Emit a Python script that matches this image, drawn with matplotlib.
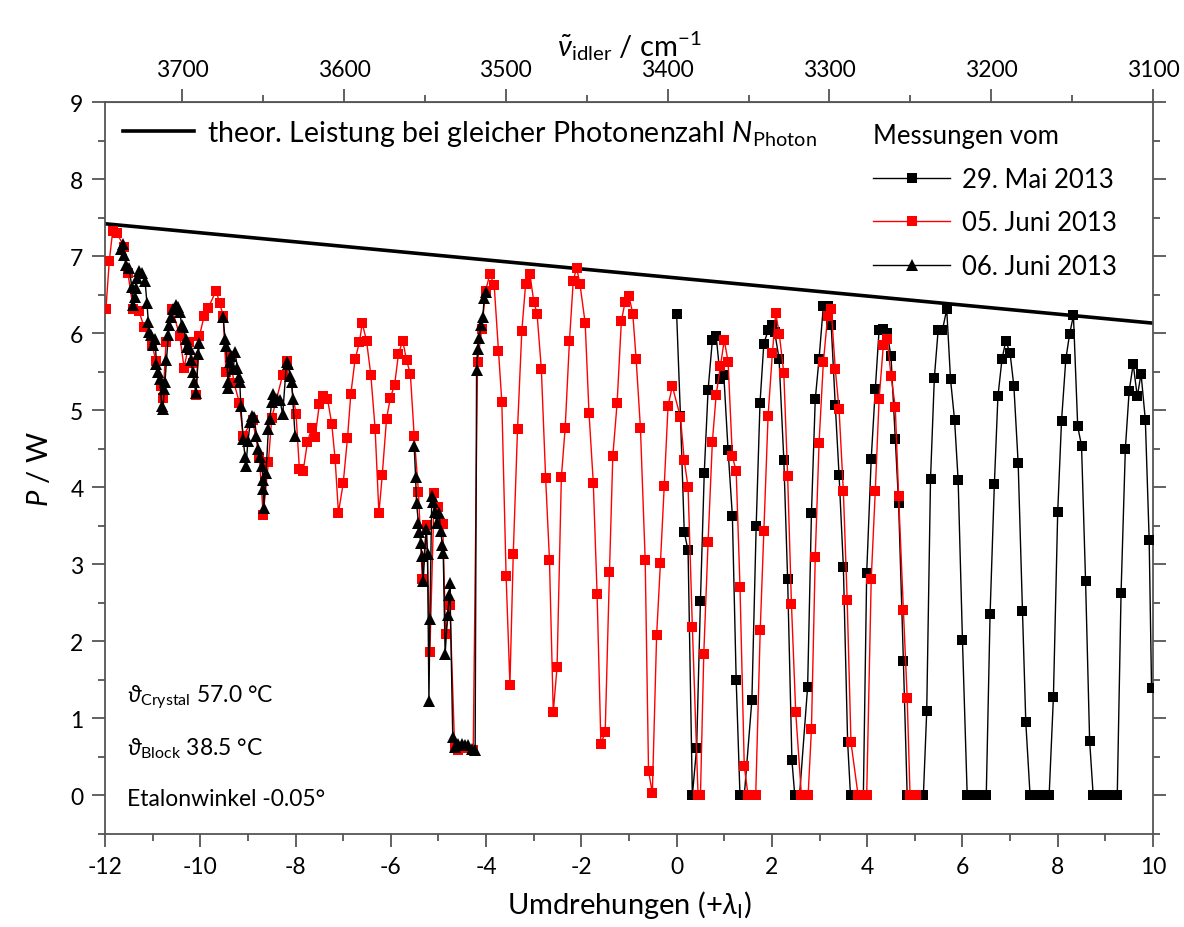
import numpy as np
import matplotlib
matplotlib.use("Agg")
from matplotlib import pyplot as plt
from matplotlib.lines import Line2D
from matplotlib.ticker import MultipleLocator, FixedLocator

plt.rcParams['font.family'] = ['Lato', 'DejaVu Sans']
plt.rcParams['mathtext.fontset'] = 'custom'
plt.rcParams['mathtext.rm'] = 'Lato'
plt.rcParams['mathtext.it'] = 'Lato:italic'
plt.rcParams['mathtext.fallback'] = 'stixsans'
plt.rcParams['axes.unicode_minus'] = False

# theoretical power at equal photon number
theo_x = [-12, 10]
theo_y = [7.42, 6.13]

# 29. Mai 2013 (black squares)
mai29_x = [0.00, 0.08, 0.16, 0.24, 0.33, 0.42, 0.50, 0.58, 0.66, 0.75, 0.83, 0.92, 0.99, 1.08, 1.17, 1.25,
           1.33, 1.42, 1.58, 1.67, 1.75, 1.83, 1.92, 2.00, 2.06, 2.15, 2.25, 2.33, 2.42, 2.48, 2.58, 2.75,
           2.83, 2.91, 2.99, 3.08, 3.17, 3.245, 3.33, 3.41, 3.50, 3.59, 3.65, 3.75, 3.85, 3.92, 3.99, 4.085,
           4.17, 4.25, 4.34, 4.42, 4.50, 4.59, 4.66, 4.76, 4.84, 4.95, 5.05, 5.18, 5.25, 5.33, 5.41, 5.49,
           5.58, 5.67, 5.75, 5.835, 5.91, 6.00, 6.10, 6.20, 6.30, 6.40, 6.50, 6.58, 6.67, 6.745, 6.83, 6.91,
           7.00, 7.08, 7.17, 7.26, 7.33, 7.42, 7.52, 7.62, 7.72, 7.82, 7.91, 8.00, 8.08, 8.17, 8.25, 8.33,
           8.42, 8.50, 8.585, 8.67, 8.745, 8.85, 8.95, 9.05, 9.15, 9.25, 9.33, 9.42, 9.50, 9.585, 9.67, 9.75,
           9.84, 9.92, 9.97]
mai29_y = [6.25, 4.93, 3.42, 3.18, 0.00, 0.62, 2.53, 4.19, 5.26, 5.91, 5.96, 5.40, 5.46, 4.48, 3.63, 1.50,
           0.00, 0.00, 1.24, 3.50, 5.09, 5.86, 6.04, 6.10, 6.01, 5.67, 4.36, 2.81, 0.46, 0.00, 0.00, 1.41,
           3.66, 5.14, 5.67, 6.35, 6.35, 6.10, 5.07, 4.16, 2.97, 0.69, 0.00, 0.00, 0.00, 0.00, 2.89, 4.37,
           5.27, 6.04, 6.06, 6.00, 5.70, 4.63, 3.79, 1.75, 0.00, 0.00, 0.00, 0.00, 1.09, 4.11, 5.42, 6.04,
           6.04, 6.31, 5.40, 4.87, 4.09, 2.02, 0.00, 0.00, 0.00, 0.00, 0.00, 2.35, 4.04, 5.18, 5.66, 5.90,
           5.74, 5.31, 4.31, 2.40, 0.95, 0.00, 0.00, 0.00, 0.00, 0.00, 1.28, 3.68, 4.86, 5.66, 5.99, 6.23,
           4.79, 4.54, 2.78, 0.71, 0.00, 0.00, 0.00, 0.00, 0.00, 0.00, 2.63, 4.50, 5.25, 5.60, 5.18, 5.47,
           4.87, 3.32, 1.40]

# 05. Juni 2013 (red squares)
jun05_x = [-11.98, -11.91, -11.84, -11.75, -11.60, -11.52, -11.41, -11.29, -11.18, -11.01, -10.93, -10.83,
           -10.78, -10.72, -10.59, -10.43, -10.34, -10.23, -10.15, -10.09, -10.02, -9.92, -9.83, -9.67,
           -9.59, -9.52, -9.46, -9.38, -9.29, -9.18, -9.10, -8.90, -8.76, -8.68, -8.57, -8.50, -8.27,
           -8.17, -7.99, -7.92, -7.84, -7.75, -7.66, -7.59, -7.50, -7.42, -7.33, -7.24, -7.17, -7.10,
           -7.00, -6.91, -6.84, -6.75, -6.66, -6.60, -6.51, -6.42, -6.33, -6.25, -6.18, -6.09, -6.01,
           -5.92, -5.84, -5.75, -5.67, -5.59, -5.51, -5.42, -5.34, -5.25, -5.18, -5.09, -5.00, -4.91,
           -4.85, -4.76, -4.66, -4.58, -4.45, -4.27, -4.18, -4.09, -4.01, -3.92, -3.83, -3.74, -3.67,
           -3.58, -3.50, -3.43, -3.34, -3.25, -3.17, -3.08, -3.00, -2.93, -2.84, -2.75, -2.67, -2.59,
           -2.51, -2.42, -2.34, -2.25, -2.17, -2.10, -2.03, -1.92, -1.84, -1.75, -1.67, -1.59, -1.50,
           -1.41, -1.34, -1.25, -1.16, -1.08, -1.00, -0.92, -0.85, -0.76, -0.66, -0.59, -0.51, -0.42,
           -0.34, -0.26, -0.18, -0.09, 0.08, 0.16, 0.24, 0.33, 0.45, 0.50, 0.57, 0.66, 0.75, 0.83,
           0.92, 1.00, 1.08, 1.17, 1.25, 1.33, 1.42, 1.50, 1.66, 1.755, 1.83, 1.92, 2.01, 2.08, 2.155,
           2.25, 2.33, 2.41, 2.50, 2.62, 2.76, 2.83, 2.91, 2.99, 3.08, 3.17, 3.245, 3.33, 3.41, 3.50,
           3.58, 3.66, 3.81, 3.99, 4.085, 4.17, 4.25, 4.34, 4.42, 4.50, 4.59, 4.66, 4.76, 4.84, 4.90,
           5.02]
jun05_y = [6.32, 6.94, 7.32, 7.30, 7.12, 6.78, 6.32, 6.29, 6.08, 5.84, 5.64, 5.31,
           5.16, 5.89, 6.31, 5.96, 5.55, 5.89, 5.61, 5.20, 5.96, 6.22, 6.33, 6.55,
           6.39, 6.22, 5.49, 5.71, 5.35, 5.10, 4.67, 4.87, 4.39, 3.64, 4.33, 4.90, 5.46,
           5.64, 4.95, 4.24, 4.21, 4.59, 4.77, 4.65, 5.08, 5.19, 5.15, 4.82, 4.37, 3.67,
           4.05, 4.64, 5.21, 5.66, 5.88, 6.13, 5.90, 5.46, 4.76, 3.66, 4.16, 4.89, 5.16,
           5.33, 5.73, 5.90, 5.65, 5.47, 4.67, 3.94, 2.81, 3.51, 1.86, 3.93, 3.74, 3.52,
           2.09, 2.47, 0.62, 0.59, 0.62, 0.59, 5.62, 6.06, 6.55, 6.77, 6.62, 5.77, 5.11,
           2.85, 1.44, 3.13, 4.76, 6.03, 6.64, 6.77, 6.41, 6.25, 5.53, 4.12, 3.06, 1.08,
           1.67, 4.13, 4.77, 5.90, 6.68, 6.85, 6.64, 6.13, 4.97, 4.06, 2.62, 0.67, 0.82,
           2.90, 4.40, 5.09, 6.16, 6.41, 6.48, 6.25, 5.66, 4.77, 3.05, 0.32, 0.03, 2.08,
           3.02, 4.02, 5.06, 5.31, 4.91, 4.35, 4.00, 2.19, 0.00, 0.00, 1.84, 3.29, 4.59, 5.20,
           5.58, 5.91, 5.63, 4.40, 4.21, 2.71, 0.38, 0.00, 0.00, 2.15, 3.43, 4.93, 5.74, 6.26, 5.99,
           5.48, 4.15, 2.49, 1.08, 0.00, 0.00, 0.86, 3.09, 4.58, 5.62, 6.22, 6.31, 5.54, 5.01, 3.95,
           2.54, 0.69, 0.00, 0.00, 2.81, 3.95, 5.14, 5.85, 5.92, 5.45, 5.04, 3.89, 2.41, 1.27, 0.00,
           0.00]

# 06. Juni 2013 (black triangles), separate measurement runs
jun06_x = [-11.67, -11.63, -11.60, -11.56, -11.49, -11.44, -11.41, -11.37, -11.35, -11.32, -11.28, -11.23,
           -11.16, -11.12, -11.09, -11.07, -11.04, -10.99, -10.95, -10.92, -10.88, -10.85, -10.81, -10.78,
           -10.76, -10.74, -10.71, -10.67, -10.65, -10.62, -10.57, -10.51, -10.46, -10.43, -10.39, -10.36,
           -10.30, -10.27, -10.22, -10.20, -10.16, -10.13, -10.09, -10.04, -10.02,
           np.nan,
           -9.52, -9.48, -9.46,
           -9.42, -9.41, -9.38, -9.35, -9.31, -9.27, -9.22, -9.18, -9.17, -9.15, -9.10, -9.06, -9.04,
           -9.00, -8.95, -8.92, -8.87, -8.82, -8.78, -8.75, -8.71, -8.68, -8.68, -8.67, -8.62, -8.57,
           -8.54, -8.50, -8.47, -8.40, -8.33, -8.27, -8.19, -8.15, -8.12, -8.08, -8.06, -8.01,
           np.nan,
           -5.51, -5.48, -5.46, -5.42, -5.40, -5.37, -5.35, -5.32, -5.26, -5.23, -5.20, -5.18, -5.14,
           -5.12, -5.07, -5.04, -4.99, -4.95, -4.92, -4.90, -4.86, -4.81, -4.77, -4.76, -4.70, -4.65,
           -4.58, -4.51, -4.44, -4.37, -4.30, -4.23, -4.20, -4.18, -4.14, -4.11, -4.07, -4.04, -4.01]
jun06_y = [7.09, 7.16, 7.01, 6.89, 6.84, 6.60, 6.36, 6.47, 6.59, 6.71, 6.81, 6.78,
           6.68, 6.39, 6.14, 6.01, 5.97, 5.84, 5.93, 5.60, 5.50, 5.41, 5.06, 5.02,
           5.28, 5.37, 5.65, 5.98, 6.10, 6.21, 6.32, 6.36, 6.34, 6.27, 6.10, 6.08,
           5.93, 5.82, 5.80, 5.65, 5.50, 5.37, 5.22, 5.73, 5.87,
           np.nan,
           6.21, 5.92, 5.83,
           5.37, 5.29, 5.63, 5.71, 5.54, 5.75, 5.55, 5.43, 5.36, 5.06, 4.63, 4.39, 4.28,
           4.60, 4.85, 4.93, 4.91, 4.67, 4.50, 4.39, 4.28, 4.09, 3.98, 3.73, 4.18, 4.76,
           4.89, 5.11, 5.21, 5.15, 5.13, 4.95, 5.62, 5.60, 5.45, 5.36, 5.15, 4.67,
           np.nan,
           4.54, 4.13, 3.79, 3.54, 3.42, 3.28, 3.11, 2.79, 3.46, 3.14, 1.22, 2.29, 3.89,
           3.81, 3.68, 3.54, 3.66, 3.43, 3.25, 3.15, 1.83, 2.34, 2.60, 2.76, 0.76, 0.63,
           0.67, 0.67, 0.65, 0.65, 0.60, 0.59, 5.52, 5.79, 5.94, 6.10, 6.21, 6.45, 6.53]

labels = ["29. Mai 2013", "05. Juni 2013", "06. Juni 2013"]
wn_major = [3700, 3600, 3500, 3400, 3300, 3200, 3100]
wn_minor = [3650, 3550, 3450, 3350, 3250, 3150]


# wavenumber of the idler vs. revolutions
def to_wn(x):
    return 3100 + (10 - np.asarray(x)) * 29.445


def from_wn(w):
    return 10 - (np.asarray(w) - 3100) / 29.445


fig = plt.figure(figsize=(11.84, 9.28), dpi=100)
ax = fig.add_axes([0.0887, 0.1002, 0.8851, 0.7888])

ax.plot(theo_x, theo_y, color='black', lw=2.6, zorder=2)
ax.plot(mai29_x, mai29_y, color='black', lw=1.0, marker='s', ms=7, mec='black', mew=0, zorder=3)
ax.plot(jun05_x, jun05_y, color='red', lw=1.0, marker='s', ms=7, mec='red', mew=0, zorder=4)
ax.plot(jun06_x, jun06_y, color='black', lw=1.0, marker='^', ms=8, mec='black', mew=0, zorder=5)

ax.set_xlim(-12, 10)
ax.set_ylim(-0.5, 9)
ax.xaxis.set_major_locator(MultipleLocator(2))
ax.xaxis.set_minor_locator(MultipleLocator(1))
ax.yaxis.set_major_locator(MultipleLocator(1))
ax.yaxis.set_minor_locator(MultipleLocator(0.5))

spine_col = '#555555'
for s in ax.spines.values():
    s.set_color(spine_col)
    s.set_linewidth(1.3)
ax.tick_params(which='both', direction='out', top=False, right=True, labelright=False,
               color=spine_col, width=1.3, labelsize=16.5)
ax.tick_params(which='major', length=9.5, pad=6)
ax.tick_params(which='minor', length=5)

ax.set_xlabel(r"Umdrehungen (+$\lambda_{\mathrm{I}}$)", fontsize=21, labelpad=8)
ax.set_ylabel(r"$P$ / W", fontsize=21, labelpad=12)

# top axis in wavenumbers
top = ax.secondary_xaxis('top', functions=(to_wn, from_wn))
top.xaxis.set_major_locator(FixedLocator(wn_major))
top.xaxis.set_minor_locator(FixedLocator(wn_minor))
top.tick_params(which='both', direction='out', color=spine_col, width=1.3, labelsize=16.5)
top.tick_params(which='major', length=9.5, pad=6)
top.tick_params(which='minor', length=5)
top.spines['top'].set_color(spine_col)
top.set_xlabel(r"$\tilde{\nu}_{\mathrm{idler}}$ / cm$^{-1}$", fontsize=21, labelpad=3)

# legends
leg1 = ax.legend([Line2D([], [], color='black', lw=2.6)],
                 [r"theor. Leistung bei gleicher Photonenzahl $N_{\mathrm{Photon}}$"],
                 loc='upper left', bbox_to_anchor=(0.0172, 0.978), frameon=False,
                 borderpad=0, borderaxespad=0,
                 fontsize=20.5, handlelength=2.5, handletextpad=0.45)
ax.add_artist(leg1)

handles = [Line2D([], [], color='black', lw=1.0, marker='s', ms=7, mew=0),
           Line2D([], [], color='red', lw=1.0, marker='s', ms=7, mew=0),
           Line2D([], [], color='black', lw=1.0, marker='^', ms=8, mew=0)]
leg2 = ax.legend(handles, labels, title="Messungen vom", title_fontsize=18.5,
                 loc='upper left', bbox_to_anchor=(0.733, 0.971), frameon=False,
                 borderpad=0, borderaxespad=0,
                 fontsize=18.5, handlelength=3.0, handletextpad=0.45, labelspacing=0.72,
                 alignment='left')

# measurement conditions
ax.text(0.021, 0.188, r"$\vartheta_{\mathrm{Crystal}}$ 57.0 °C", transform=ax.transAxes,
        fontsize=16.5, va='center')
ax.text(0.021, 0.118, r"$\vartheta_{\mathrm{Block}}$ 38.5 °C", transform=ax.transAxes,
        fontsize=16.5, va='center')
ax.text(0.021, 0.049, "Etalonwinkel -0.05°", transform=ax.transAxes,
        fontsize=16.5, va='center')

fig.savefig("out.png", dpi=100)
